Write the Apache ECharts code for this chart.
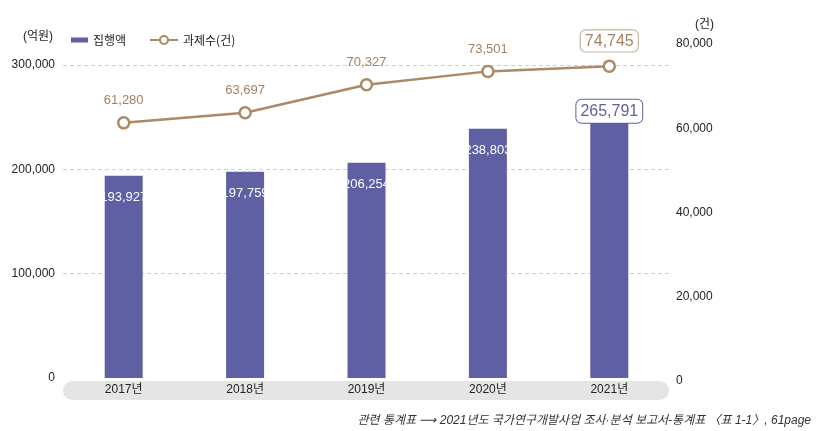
<!DOCTYPE html>
<html>
<head>
<meta charset="utf-8">
<script src="https://cdn.jsdelivr.net/npm/echarts@6/dist/echarts.min.js"></script>
<style>html,body{margin:0;padding:0;background:#fff;}#c{width:832px;height:431px;}</style>
</head>
<body>
<div id="c"></div>
<script>
const categories = ['2017년', '2018년', '2019년', '2020년', '2021년'];
const spending = [193927, 197759, 206254, 238803, 265791];
const projects = [61280, 63697, 70327, 73501, 74745];
const leftTicks = { min: 0, max: 300000, interval: 100000 };
const rightTicks = { min: 0, max: 80000, interval: 20000 };

const FONT = "'Liberation Sans', 'Noto Sans CJK KR', sans-serif";
const KFONT = "'Noto Sans CJK KR', sans-serif";
const BAR = '#5f60a3';
const LINE = '#ab8a67';
const LINE_TXT = '#a38262';

const barData = spending.map((v, i) => i === spending.length - 1 ? {
  value: v,
  label: {
    position: 'insideTop', distance: -1, color: BAR, fontSize: 16,
    backgroundColor: '#fff', borderColor: BAR, borderWidth: 1, borderRadius: 5,
    padding: [4, 4, 3, 4]
  }
} : v);

const lineData = projects.map((v, i) => i === projects.length - 1 ? {
  value: v,
  label: {
    fontSize: 16, distance: 8, color: LINE_TXT,
    backgroundColor: '#fff', borderColor: '#c9b29a', borderWidth: 1.2, borderRadius: 5,
    padding: [3, 4, 2, 4]
  }
} : v);

const chart = echarts.init(document.getElementById('c'), null, { renderer: 'canvas' });
chart.setOption({
  animation: false,
  textStyle: { fontFamily: FONT },
  title: {
    text: '관련 통계표 ⟶ 2021년도 국가연구개발사업 조사·분석 보고서-통계표 〈표 1-1〉, 61page',
    right: 16, top: 410,
    textStyle: { fontSize: 12, fontStyle: 'italic', fontWeight: 'normal', color: '#333', fontFamily: FONT }
  },
  legend: [{
    data: [{ name: '집행액', icon: 'rect' }],
    left: 66, top: 29, itemWidth: 17, itemHeight: 5, itemGap: 6,
    textStyle: { fontSize: 12, color: '#222', fontFamily: KFONT }
  }, {
    data: ['과제수(건)'],
    left: 144, top: 29, itemWidth: 28, itemHeight: 10,
    textStyle: { fontSize: 12, color: '#222', fontFamily: KFONT }
  }],
  graphic: [{
    type: 'rect', z: -10,
    shape: { x: 63, y: 381, width: 606, height: 19, r: 9.5 },
    style: { fill: '#e5e5e5' }
  }],
  grid: [
    { left: 63, right: 162, top: 65, bottom: 53 },
    { left: 63, right: 162, top: 44, bottom: 50 }
  ],
  xAxis: [{
    type: 'category', gridIndex: 0, data: categories,
    axisLine: { show: false }, axisTick: { show: false },
    axisLabel: { margin: 6, fontSize: 12, color: '#222', fontFamily: FONT }
  }, {
    type: 'category', gridIndex: 1, data: categories, show: false
  }],
  yAxis: [{
    type: 'value', gridIndex: 0, ...leftTicks,
    name: '(억원)', nameLocation: 'end', nameGap: 22,
    nameTextStyle: { align: 'right', padding: [0, 10, 0, 0], fontSize: 12, color: '#222', fontFamily: FONT },
    axisLine: { show: false }, axisTick: { show: false },
    axisLabel: { margin: 8, fontSize: 12, color: '#222', formatter: v => v.toLocaleString('en-US') },
    splitLine: { showMinLine: false, lineStyle: { type: [4, 3], color: '#cfcfcf', width: 1 } }
  }, {
    type: 'value', gridIndex: 1, position: 'right', ...rightTicks,
    name: '(건)', nameLocation: 'end', nameGap: 13,
    nameTextStyle: { align: 'left', padding: [0, 0, 0, 25], fontSize: 12, color: '#222', fontFamily: FONT },
    axisLine: { show: false }, axisTick: { show: false },
    axisLabel: { margin: 6, fontSize: 12, color: '#222', formatter: v => v.toLocaleString('en-US') },
    splitLine: { show: false }
  }],
  series: [{
    name: '집행액', type: 'bar', xAxisIndex: 0, yAxisIndex: 0,
    data: barData, barWidth: 38,
    itemStyle: { color: BAR },
    label: {
      show: true, position: 'insideTop', distance: 15, color: '#fff', fontSize: 13,
      formatter: p => p.value.toLocaleString('en-US')
    }
  }, {
    name: '과제수(건)', type: 'line', xAxisIndex: 1, yAxisIndex: 1,
    data: lineData, z: 5,
    symbol: 'circle', symbolSize: 11,
    lineStyle: { color: LINE, width: 2.5 },
    itemStyle: { color: '#fff', borderColor: LINE, borderWidth: 2.5 },
    label: {
      show: true, position: 'top', distance: 9, color: LINE_TXT, fontSize: 13,
      formatter: p => p.value.toLocaleString('en-US')
    }
  }]
});
</script>
</body>
</html>
